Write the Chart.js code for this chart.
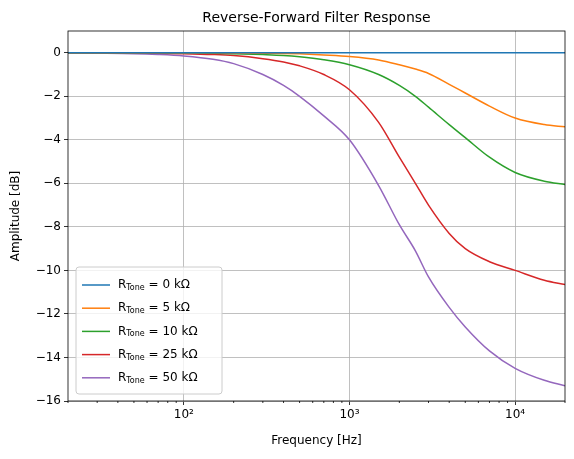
<!DOCTYPE html>
<html><head><script src="https://cdn.jsdelivr.net/npm/chart.js"></script>
<style>body{margin:0;background:#fff}#w{width:574px;height:459px}</style></head>
<body><div id="w"><canvas id="c"></canvas></div>
<script>
const freqs=[20,30,50,70,100,150,200,300,400,500,700,1000,1500,2000,2500,3000,4000,5000,7000,10000,15000,20000];
const r0=[0,0,0,0,0,0,0,0,0,0,0,0,0,0,0,0,0,0,0,0,0,0];
const r5=[0,0,0,0,0,-0.005,-0.01,-0.02,-0.03,-0.05,-0.1,-0.17,-0.33,-0.55,-0.75,-0.95,-1.45,-1.85,-2.45,-3.0,-3.3,-3.4];
const r10=[0,0,0,-0.005,-0.01,-0.02,-0.04,-0.08,-0.12,-0.18,-0.32,-0.55,-1.0,-1.5,-2.0,-2.5,-3.3,-3.9,-4.8,-5.5,-5.9,-6.05];
const r25=[0,0,-0.01,-0.02,-0.04,-0.08,-0.13,-0.27,-0.42,-0.6,-1.0,-1.7,-3.2,-4.8,-6.0,-7.0,-8.3,-9.0,-9.6,-10.0,-10.45,-10.65];
const r50=[-0.01,-0.02,-0.04,-0.08,-0.15,-0.3,-0.5,-1.0,-1.5,-2.0,-2.9,-4.0,-6.1,-7.9,-9.1,-10.3,-11.7,-12.6,-13.7,-14.5,-15.05,-15.3];
const names=["0 kΩ","5 kΩ","10 kΩ","25 kΩ","50 kΩ"];
const colors=["#1f77b4","#ff7f0e","#2ca02c","#d62728","#9467bd"];
const series=[r0,r5,r10,r25,r50];
const F="DejaVu Sans";
const extra={id:'extra',afterDraw(ch){const c=ch.ctx,a=ch.chartArea;c.save();
c.fillStyle='#000';c.font='14px '+F;c.textAlign='center';c.textBaseline='middle';
c.fillText('Reverse-Forward Filter Response',(a.left+a.right)/2,18);
c.font='12px '+F;c.fillText('Frequency [Hz]',(a.left+a.right)/2,441);
c.save();c.translate(16,(a.top+a.bottom)/2);c.rotate(-Math.PI/2);c.fillText('Amplitude [dB]',0,0);c.restore();
const xs=ch.scales.x;c.strokeStyle='#000';c.lineWidth=0.8;
for(let d=10;d<=10000;d*=10)for(let k=2;k<=9;k++){const f=d*k;if(f<20||f>20000)continue;const px=xs.getPixelForValue(f);c.beginPath();c.moveTo(px,a.bottom);c.lineTo(px,a.bottom+2);c.stroke();}
c.strokeRect(a.left,a.top,a.right-a.left,a.bottom-a.top);
const bx=a.left+8,by=a.bottom-134,bw=146,bh=127;
c.fillStyle='rgba(255,255,255,0.8)';c.strokeStyle='#ccc';c.lineWidth=1;
c.beginPath();c.roundRect(bx,by,bw,bh,3);c.fill();c.stroke();
c.textAlign='left';
names.forEach((n,i)=>{const y=by+18+i*23.2;c.strokeStyle=colors[i];c.lineWidth=1.5;c.beginPath();c.moveTo(bx+6,y);c.lineTo(bx+34,y);c.stroke();
c.fillStyle='#000';c.font='12px '+F;c.fillText('R',bx+42,y);let w=c.measureText('R').width;
c.font='8px '+F;c.fillText('Tone',bx+42+w,y+3);let w2=c.measureText('Tone').width;
c.font='12px '+F;c.fillText(' = '+n,bx+42+w+w2,y);});
c.restore();}};
new Chart(document.getElementById('c'),{type:'line',
data:{labels:freqs,datasets:series.map((s,i)=>({data:s.map((v,j)=>({x:freqs[j],y:v})),borderColor:colors[i],borderWidth:1.5,pointRadius:0,cubicInterpolationMode:'monotone',fill:false}))},
options:{responsive:true,maintainAspectRatio:false,animation:false,
layout:{padding:{left:0,right:9,top:31,bottom:0}},
plugins:{legend:{display:false},tooltip:{enabled:false}},
scales:{x:{type:'logarithmic',min:20,max:20000,
afterBuildTicks(s){s.ticks=[100,1000,10000].map(v=>({value:v}));},
afterFit(s){s.height=58;},
ticks:{color:'#000',font:{family:F,size:12},maxRotation:0,callback:v=>({100:'10²',1000:'10³',10000:'10⁴'})[v]},
grid:{color:'#b0b0b0',lineWidth:0.8,tickLength:4,tickColor:'#000'},border:{display:false}},
y:{min:-16,max:1,afterBuildTicks(s){const t=[];for(let v=-16;v<=0;v+=2)t.push({value:v});s.ticks=t;},
afterFit(s){s.width=68;},
ticks:{color:'#000',font:{family:F,size:12},callback:v=>String(v).replace('-','−')},
grid:{color:'#b0b0b0',lineWidth:0.8,tickLength:4,tickColor:'#000'},border:{display:false}}}},
plugins:[extra]});
</script></body></html>
